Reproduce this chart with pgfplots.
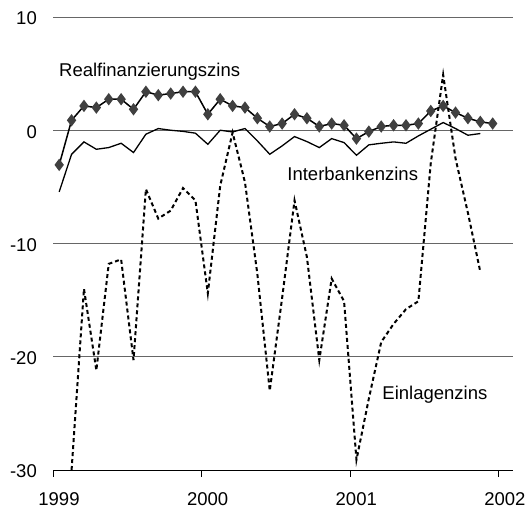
\documentclass[border=0pt]{standalone}
\usepackage{pgfplots}
\pgfplotsset{compat=1.18}
\usepackage{pgfplotstable}
\usepackage{fontspec}
\setmainfont{Liberation Sans}
\pgfplotstableread{
m v
0.5 -3.06
1.5 0.88
2.5 2.15
3.5 2.00
4.5 2.74
5.5 2.74
6.5 1.85
7.5 3.40
8.5 3.10
9.5 3.24
10.5 3.40
11.5 3.40
12.5 1.41
13.5 2.74
14.5 2.15
15.5 2.00
16.5 1.06
17.5 0.33
18.5 0.59
19.5 1.41
20.5 1.06
21.5 0.33
22.5 0.59
23.5 0.44
24.5 -0.74
25.5 -0.12
26.5 0.33
27.5 0.44
28.5 0.44
29.5 0.59
30.5 1.70
31.5 2.15
32.5 1.56
33.5 1.06
34.5 0.74
35.5 0.59
}\realfin
\pgfplotstableread{
m v
0.5 -5.44
1.5 -2.12
2.5 -1.03
3.5 -1.68
4.5 -1.53
5.5 -1.15
6.5 -1.97
7.5 -0.35
8.5 0.15
9.5 0.00
10.5 -0.10
11.5 -0.26
12.5 -1.24
13.5 0.00
14.5 -0.15
15.5 0.15
16.5 -0.94
17.5 -2.12
18.5 -1.38
19.5 -0.56
20.5 -1.00
21.5 -1.53
22.5 -0.74
23.5 -1.09
24.5 -2.21
25.5 -1.29
26.5 -1.15
27.5 -1.03
28.5 -1.15
29.5 -0.50
30.5 0.09
31.5 0.68
32.5 0.15
33.5 -0.44
34.5 -0.29
}\interbank
\pgfplotstableread{
m v
1.5 -30.0
2.5 -14.0
3.5 -21.2
4.5 -11.8
5.5 -11.4
6.5 -20.3
7.5 -5.2
8.5 -7.8
9.5 -7.1
10.5 -5.1
11.5 -6.2
12.5 -14.4
13.5 -4.9
14.5 -0.2
15.5 -4.6
16.5 -12.7
17.5 -23.0
18.5 -14.8
19.5 -6.2
20.5 -11.2
21.5 -20.3
22.5 -13.1
23.5 -15.1
24.5 -29.1
25.5 -23.7
26.5 -18.7
27.5 -17.1
28.5 -15.8
29.5 -15.1
30.5 -2.9
31.5 4.9
32.5 -2.5
33.5 -7.3
34.5 -12.5
}\einlagen
\begin{document}
\begin{tikzpicture}
\useasboundingbox (0,0) rectangle (529pt,510pt);
\begin{axis}[
  at={(53pt,40pt)}, anchor=south west,
  scale only axis, width=460pt, height=453pt,
  xmin=0, xmax=37.14, ymin=-30, ymax=10,
  axis x line*=bottom, axis y line*=left,
  x axis line style={-, black, line width=0.9pt},
  y axis line style={draw=none},
  xtick={0,12,24,36}, xticklabels={1999,2000,2001,2002},
  ytick={-30,-20,-10,0},
  extra y ticks={10},
  extra y tick style={grid style={black, line width=0.9pt}},
  ymajorgrids,
  major grid style={black!60, line width=0.9pt},
  tick align=outside, major tick length=7pt,
  tick style={black, line width=0.9pt},
  ytick style={draw=none},
  ticklabel style={font=\fontsize{18.5}{22}\selectfont},
  xticklabel style={inner sep=0pt, yshift=-15pt, xshift=6pt},
  yticklabel style={inner sep=0pt, xshift=-9pt, yshift=-1.5pt},
  /pgf/number format/assume math mode=true,
  clip=true,
]
\addplot[black, line width=2pt, dash pattern=on 4pt off 3pt] table[x=m,y=v] {\einlagen};
\addplot[black, line width=1.3pt] table[x=m,y=v] {\interbank};
\addplot[black, line width=1.5pt, mark=diamond*, mark size=5pt,
  mark options={fill=black!75, draw=black!75, solid}] table[x=m,y=v] {\realfin};
\node[anchor=base west, inner sep=0pt, font=\fontsize{18.5}{22}\selectfont] at (axis cs:0.48,4.77) {Realfinanzierungszins};
\node[anchor=base west, inner sep=0pt, font=\fontsize{18.5}{22}\selectfont] at (axis cs:18.91,-4.47) {Interbankenzins};
\node[anchor=base west, inner sep=0pt, font=\fontsize{18.5}{22}\selectfont] at (axis cs:26.58,-23.74) {Einlagenzins};
\end{axis}
\end{tikzpicture}
\end{document}
